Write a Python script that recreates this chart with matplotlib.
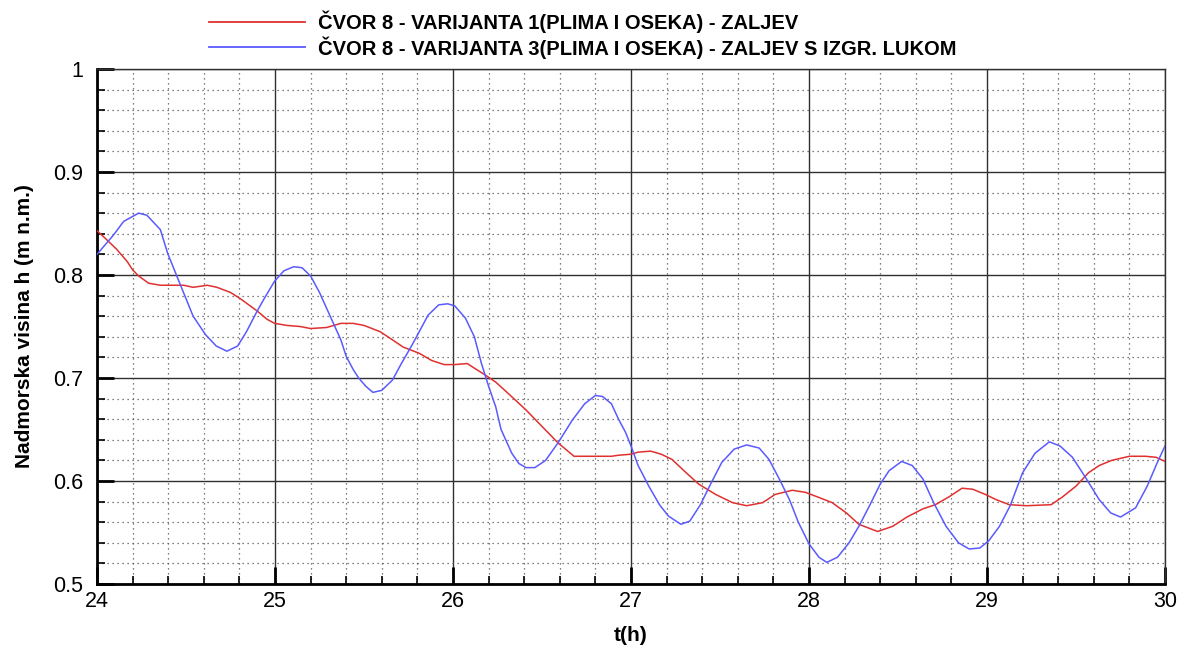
import matplotlib
matplotlib.use("Agg")
import matplotlib.pyplot as plt
from matplotlib.ticker import MultipleLocator

t_blue = [24.0, 24.094, 24.15, 24.234, 24.28, 24.356, 24.397, 24.46, 24.54, 24.61, 24.67, 24.73,
          24.79, 24.84, 24.90, 24.946, 24.998, 25.05, 25.105, 25.152, 25.2, 25.25, 25.31, 25.37,
          25.40, 25.44, 25.47, 25.51, 25.55, 25.60, 25.66, 25.71, 25.77, 25.82, 25.86, 25.92,
          25.97, 26.01, 26.07, 26.12, 26.16, 26.20, 26.24, 26.27, 26.33, 26.37, 26.41, 26.46,
          26.52, 26.59, 26.67, 26.74, 26.80, 26.84, 26.89, 26.93, 26.97, 27.0, 27.04, 27.10,
          27.16, 27.21, 27.28, 27.33, 27.39, 27.45, 27.51, 27.58, 27.65, 27.72, 27.775, 27.83,
          27.89, 27.94, 28.0, 28.056, 28.10, 28.16, 28.225, 28.28, 28.34, 28.40, 28.45, 28.52,
          28.58, 28.64, 28.70, 28.77, 28.84, 28.90, 28.96, 29.01, 29.07, 29.13, 29.20, 29.27,
          29.35, 29.41, 29.48, 29.555, 29.63, 29.695, 29.75, 29.835, 29.90, 29.957, 30.0]
h_blue = [0.820, 0.839, 0.852, 0.860, 0.858, 0.844, 0.821, 0.794, 0.760, 0.742, 0.731, 0.726,
          0.731, 0.745, 0.765, 0.779, 0.794, 0.804, 0.808, 0.807, 0.799, 0.783, 0.760, 0.737,
          0.721, 0.708, 0.700, 0.692, 0.686, 0.688, 0.698, 0.714, 0.732, 0.748, 0.761, 0.771,
          0.772, 0.770, 0.758, 0.740, 0.714, 0.692, 0.672, 0.650, 0.627, 0.617, 0.613, 0.613,
          0.620, 0.637, 0.659, 0.675, 0.683, 0.682, 0.675, 0.660, 0.647, 0.634, 0.615, 0.595,
          0.577, 0.566, 0.558, 0.561, 0.577, 0.598, 0.618, 0.631, 0.635, 0.632, 0.621, 0.603,
          0.582, 0.560, 0.539, 0.526, 0.521, 0.526, 0.540, 0.556, 0.576, 0.597, 0.610, 0.619,
          0.615, 0.602, 0.579, 0.556, 0.540, 0.534, 0.535, 0.542, 0.556, 0.576, 0.608, 0.627,
          0.638, 0.634, 0.623, 0.603, 0.582, 0.569, 0.565, 0.574, 0.595, 0.618, 0.634]

t_red = [24.0, 24.056, 24.11, 24.17, 24.20, 24.234, 24.29, 24.356, 24.487, 24.54, 24.62, 24.674,
         24.75, 24.805, 24.90, 24.955, 24.998, 25.067, 25.14, 25.2, 25.29, 25.37, 25.44, 25.50,
         25.53, 25.59, 25.66, 25.72, 25.81, 25.88, 25.95, 26.01, 26.08, 26.125, 26.18, 26.24,
         26.31, 26.41, 26.50, 26.59, 26.68, 26.78, 26.89, 26.93, 27.0, 27.04, 27.11, 27.17,
         27.23, 27.31, 27.38, 27.475, 27.57, 27.65, 27.74, 27.81, 27.906, 27.98, 28.056, 28.13,
         28.21, 28.28, 28.385, 28.47, 28.55, 28.64, 28.71, 28.79, 28.86, 28.92, 28.99, 29.05,
         29.125, 29.22, 29.36, 29.42, 29.50, 29.57, 29.63, 29.70, 29.80, 29.89, 29.95, 30.0]
h_red = [0.843, 0.834, 0.825, 0.813, 0.805, 0.799, 0.792, 0.790, 0.790, 0.788, 0.790, 0.788,
         0.783, 0.777, 0.765, 0.757, 0.753, 0.751, 0.750, 0.748, 0.749, 0.753, 0.753, 0.751,
         0.749, 0.745, 0.737, 0.730, 0.724, 0.717, 0.713, 0.713, 0.714, 0.709, 0.703, 0.696,
         0.685, 0.669, 0.653, 0.637, 0.624, 0.624, 0.624, 0.625, 0.626, 0.628, 0.629, 0.626,
         0.621, 0.608, 0.597, 0.587, 0.579, 0.576, 0.579, 0.587, 0.591, 0.589, 0.584, 0.579,
         0.569, 0.558, 0.551, 0.556, 0.565, 0.573, 0.577, 0.585, 0.593, 0.592, 0.587, 0.582,
         0.577, 0.576, 0.577, 0.584, 0.595, 0.608, 0.615, 0.620, 0.624, 0.624, 0.623, 0.619]

label_red = "ČVOR 8 - VARIJANTA 1(PLIMA I OSEKA) - ZALJEV"
label_blue = "ČVOR 8 - VARIJANTA 3(PLIMA I OSEKA) - ZALJEV S IZGR. LUKOM"
x_ticks = [24, 25, 26, 27, 28, 29, 30]
y_ticks = [0.5, 0.6, 0.7, 0.8, 0.9, 1.0]
y_tick_labels = ["0.5", "0.6", "0.7", "0.8", "0.9", "1"]

plt.rcParams['font.family'] = ['Liberation Sans', 'DejaVu Sans']

fig = plt.figure(figsize=(11.9, 6.5), dpi=100)
ax = fig.add_axes([0.0815, 0.1015, 0.8975, 0.7925])

red = "#e03030"
blue = "#5a5aff"
ax.plot(t_red, h_red, color=red, lw=1.1, zorder=3)
ax.plot(t_blue, h_blue, color=blue, lw=1.1, zorder=3)

ax.set_xlim(24, 30)
ax.set_ylim(0.5, 1.0)
ax.set_xticks(x_ticks)
ax.set_xticklabels([str(v) for v in x_ticks])
ax.set_yticks(y_ticks)
ax.set_yticklabels(y_tick_labels)
ax.xaxis.set_minor_locator(MultipleLocator(0.2))
ax.yaxis.set_minor_locator(MultipleLocator(0.02))
ax.grid(which='major', color='#303030', lw=1.0, ls='-', zorder=1)
ax.grid(which='minor', color='#555555', lw=0.9, ls=(0, (1, 3)), zorder=1)
ax.tick_params(which='major', direction='in', length=12, width=2, labelsize=15.5)
ax.tick_params(which='minor', direction='in', length=6, width=1.2)
ax.tick_params(axis='y', which='major', pad=10)
ax.tick_params(axis='x', which='major', pad=5)
for s in ['left', 'bottom']:
    ax.spines[s].set_linewidth(2)
for s in ['top', 'right']:
    ax.spines[s].set_linewidth(1)
    ax.spines[s].set_color('#303030')

ax.set_xlabel("t(h)", fontsize=15, fontweight='bold', labelpad=10)
ax.set_ylabel("Nadmorska visina h (m n.m.)", fontsize=15, fontweight='bold', labelpad=14)

# legend at top
for yy, col, lab in [(0.966, red, label_red), (0.927, blue, label_blue)]:
    fig.add_artist(plt.Line2D([0.176, 0.256], [yy, yy], color=col, lw=1.3, transform=fig.transFigure))
    fig.text(0.267, yy, lab, fontsize=14.5, fontweight='bold', va='center', ha='left')

fig.savefig("out.png", dpi=100)
